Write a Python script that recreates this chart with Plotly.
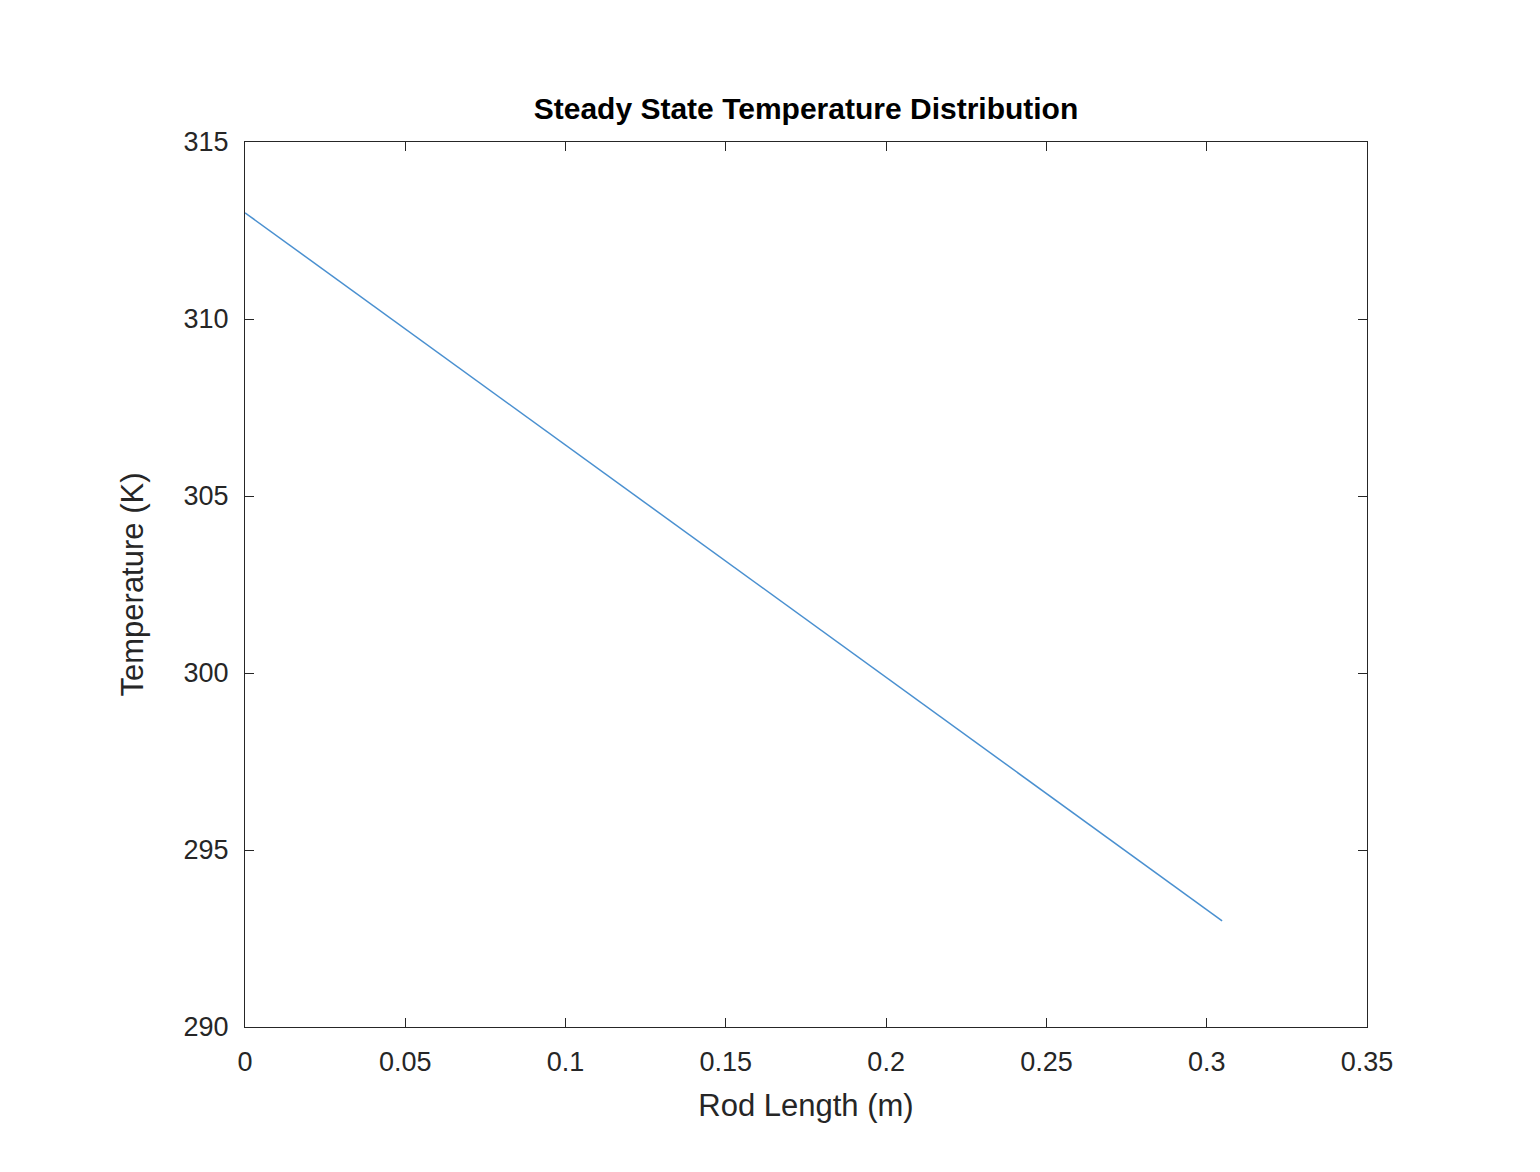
import plotly.graph_objects as go

x_vals = [0.0, 0.3048]
t_vals = [313.0, 293.0]
x_ticks = [0, 0.05, 0.1, 0.15, 0.2, 0.25, 0.3, 0.35]
x_tick_text = ["0", "0.05", "0.1", "0.15", "0.2", "0.25", "0.3", "0.35"]
y_ticks = [290, 295, 300, 305, 310, 315]

fig = go.Figure(go.Scatter(x=x_vals, y=t_vals, mode="lines",
                           line=dict(color="#4a90d0", width=1.5)))
ax = dict(showgrid=False, zeroline=False, showline=True, linecolor="#262626",
          linewidth=1.3, mirror="ticks", ticks="inside", ticklen=9,
          tickcolor="#262626", tickfont=dict(size=27, color="#262626"),
          ticklabelstandoff=10)
fig.update_xaxes(range=[0, 0.35], tickvals=x_ticks, ticktext=x_tick_text,
                 title=dict(text="Rod Length (m)", font=dict(size=31, color="#262626"), standoff=18), **ax)
fig.update_yaxes(range=[290, 315], tickvals=y_ticks,
                 title=dict(text="Temperature (K)", font=dict(size=31, color="#262626"), standoff=30), **ax)
fig.update_layout(
    width=1540, height=1172, paper_bgcolor="white", plot_bgcolor="white",
    font=dict(family="Liberation Sans, Arial, sans-serif"),
    margin=dict(l=237, r=181, t=134, b=153),
    title=dict(text="<b>Steady State Temperature Distribution</b>", x=(237 + 1359) / 2 / 1540,
               xanchor="center", y=1 - 100 / 1172, yanchor="middle",
               font=dict(size=30, color="black")),
    showlegend=False,
)
fig.write_html("out.html")
